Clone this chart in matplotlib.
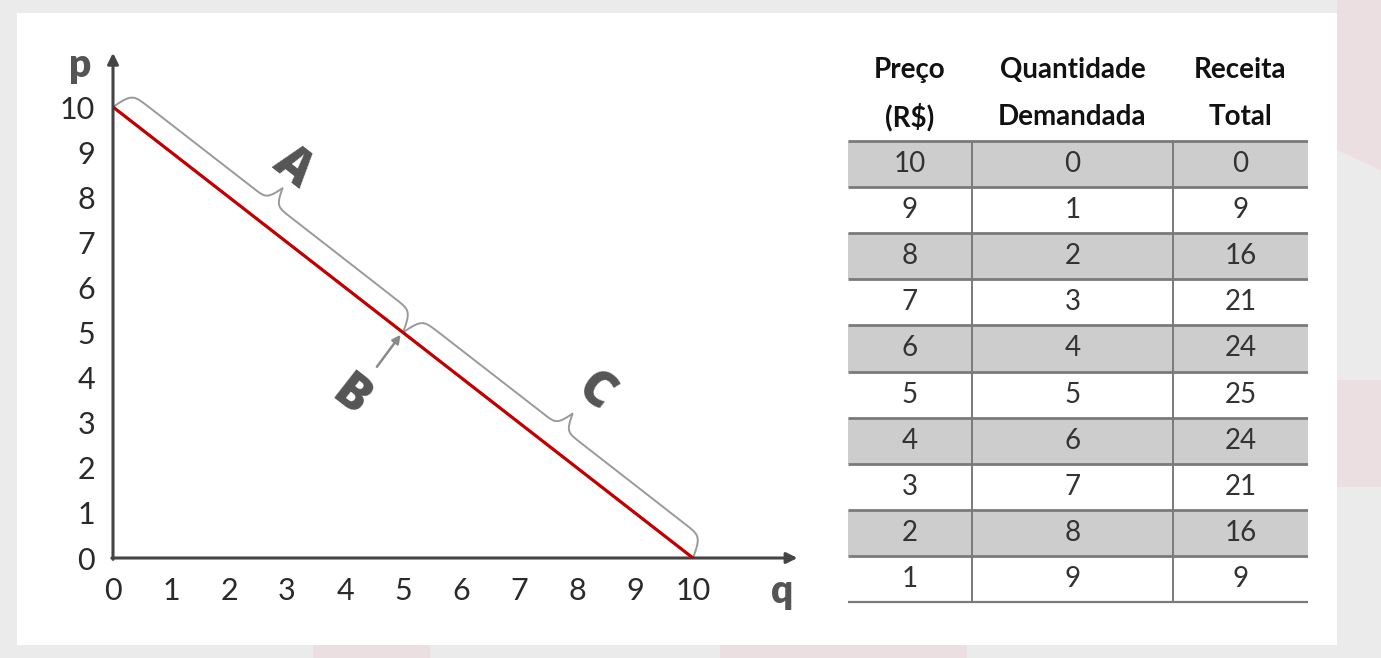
import numpy as np
import matplotlib
matplotlib.use("Agg")
import matplotlib.pyplot as plt
from matplotlib.patches import Rectangle, Polygon

# ── Data ───────────────────────────────────────────────────────────────────────

PRICES     = [10, 9, 8, 7, 6, 5, 4, 3, 2, 1]
QUANTITIES = [0, 1, 2, 3, 4, 5, 6, 7, 8, 9]
REVENUE    = [0, 9, 16, 21, 24, 25, 24, 21, 16, 9]

CURVE_Q = [0, 10]
CURVE_P = [10, 0]

HEADERS = [("Preço", "(R$)"), ("Quantidade", "Demandada"), ("Receita", "Total")]

BRACES = [((0, 10), (5, 5)), ((5, 5), (10, 0))]
LABELS = [("A", 3.10, 8.65), ("B", 4.09, 3.57), ("C", 8.31, 3.68)]
B_ARROW = ((4.55, 4.24), (4.96, 4.95))

TICKS = list(range(11))

# ── Style ──────────────────────────────────────────────────────────────────────

W, H = 1381, 658
BG = "#ebebeb"
AXIS = "#444444"
LETTER = "#555555"
BRACE = "#9a9a9a"
RED = "#c00000"
SHADE = "#cdcdcd"
GRID = "#7a7a7a"

plt.rcParams["font.family"] = ["Lato", "DejaVu Sans"]


def px_rect(x0, y0, x1, y1):
    """pixel box (top-left origin) -> figure fraction [l, b, w, h]"""
    return [x0 / W, 1 - y1 / H, (x1 - x0) / W, (y1 - y0) / H]


def draw_brace(ax, p0, p1, plateau=22, tip=40, w_end=3.5, w_tip=3.0):
    s = ax.transData.transform(p0)
    e = ax.transData.transform(p1)
    d = e - s
    L = np.hypot(*d)
    d = d / L
    n = np.array([-d[1], d[0]])
    u = np.linspace(0, L / 2, 400)
    half = (plateau * (2 / (1 + np.exp(-u / w_end)) - 1)
            + (tip - plateau) * 2 / (1 + np.exp(-(u - L / 2) / w_tip)))
    uu = np.concatenate([u, L - u[::-1]])
    vv = np.concatenate([half, half[::-1]])
    pts = s + np.outer(uu, d) + np.outer(vv, n)
    data = ax.transData.inverted().transform(pts)
    ax.plot(data[:, 0], data[:, 1], color=BRACE, lw=1.4,
            solid_capstyle="round", zorder=2)


# ── Figure ─────────────────────────────────────────────────────────────────────

fig = plt.figure(figsize=(W / 100, H / 100), dpi=100, facecolor=BG)

# faint watermark shapes in the margins
for poly in [[(1337, 0), (1381, 0), (1381, 170), (1337, 150)],
             [(1337, 380), (1381, 380), (1381, 487), (1337, 487)],
             [(313, 645), (430, 645), (430, 658), (313, 658)],
             [(720, 645), (967, 645), (967, 658), (720, 658)]]:
    fig.add_artist(Polygon([(x / W, 1 - y / H) for x, y in poly],
                           closed=True, transform=fig.transFigure,
                           facecolor="#ecdfe2", edgecolor="none", zorder=0))

# white panel
l, b, w, h = px_rect(17, 13, 1337, 645)
fig.add_artist(Rectangle((l, b), w, h, transform=fig.transFigure,
                         facecolor="white", edgecolor="none", zorder=0))

# ── Demand curve ──────────────────────────────────────────────────────────────

X0, Y0 = 113, 558          # pixel of data origin
UX, UY = 58.0, 45.1        # pixels per unit
XMAX, YMAX = 12.0, 11.5
ax = fig.add_axes(px_rect(X0, Y0 - YMAX * UY, X0 + XMAX * UX, Y0))
ax.set_xlim(0, XMAX)
ax.set_ylim(0, YMAX)
ax.patch.set_alpha(0)
for sp in ax.spines.values():
    sp.set_visible(False)
ax.set_xticks(TICKS)
ax.set_yticks(TICKS)
ax.tick_params(length=0, labelsize=22, labelcolor="#2a2a2a")
ax.tick_params(axis="y", pad=13)
ax.tick_params(axis="x", pad=14)

arrow = dict(arrowstyle="-|>", color=AXIS, lw=2.2, mutation_scale=16,
             shrinkA=0, shrinkB=0)
ax.annotate("", xy=(0, 11.2), xytext=(0, -0.03), arrowprops=arrow,
            annotation_clip=False)
ax.annotate("", xy=(11.8, 0), xytext=(-0.02, 0), arrowprops=arrow,
            annotation_clip=False)

ax.text(-0.57, 10.93, "p", fontsize=28, fontweight="heavy", color=LETTER,
        ha="center", va="center")
ax.text(11.53, -0.75, "q", fontsize=28, fontweight="heavy", color=LETTER,
        ha="center", va="center", clip_on=False)

ax.plot(CURVE_Q, CURVE_P, color=RED, lw=2.3, zorder=3)

for p0, p1 in BRACES:
    draw_brace(ax, p0, p1)

for txt, x, y in LABELS:
    ax.text(x, y, txt, fontsize=35, fontweight=800, color=LETTER,
            family=["Open Sans", "Lato", "DejaVu Sans"],
            rotation=-38, ha="center", va="center", rotation_mode="anchor")

ax.annotate("", xy=B_ARROW[1], xytext=B_ARROW[0],
            arrowprops=dict(arrowstyle="-|>", color="#8a8a8a", lw=1.8,
                            mutation_scale=12, shrinkA=0, shrinkB=0))

# ── Table ─────────────────────────────────────────────────────────────────────

COL_EDGES = [848, 972, 1173, 1308]
ROW_TOP, ROW_H = 141, 46.1
nrows = len(PRICES)
TOP_PX = 40
tax = fig.add_axes(px_rect(COL_EDGES[0], TOP_PX, COL_EDGES[-1], ROW_TOP + nrows * ROW_H + 4))
tax.set_xlim(COL_EDGES[0], COL_EDGES[-1])
tax.set_ylim(nrows + 4 / ROW_H, -(ROW_TOP - TOP_PX) / ROW_H)
tax.axis("off")

centers = [(COL_EDGES[i] + COL_EDGES[i + 1]) / 2 for i in range(3)]

for i in range(nrows):
    if i % 2 == 0:
        tax.add_patch(Rectangle((COL_EDGES[0], i), COL_EDGES[-1] - COL_EDGES[0], 1,
                                facecolor=SHADE, edgecolor="none", zorder=0))
        tax.hlines([i, i + 1], COL_EDGES[0], COL_EDGES[-1], color=GRID, lw=2.0, zorder=2)
tax.hlines(nrows, COL_EDGES[0], COL_EDGES[-1], color=GRID, lw=1.6, zorder=2)
tax.vlines(COL_EDGES[1:3], 0, nrows, color=GRID, lw=1.4, zorder=2)

for c, (h1, h2) in zip(centers, HEADERS):
    tax.text(c, -1.54, h1, fontsize=20, fontweight="bold", color="#111111",
             ha="center", va="center")
    tax.text(c, -0.52, h2, fontsize=20, fontweight="bold", color="#111111",
             ha="center", va="center")

for i, row in enumerate(zip(PRICES, QUANTITIES, REVENUE)):
    for c, v in zip(centers, row):
        tax.text(c, i + 0.5, str(v), fontsize=20, color="#333333",
                 ha="center", va="center", zorder=3)

fig.savefig("out.png", dpi=100, facecolor=BG)
